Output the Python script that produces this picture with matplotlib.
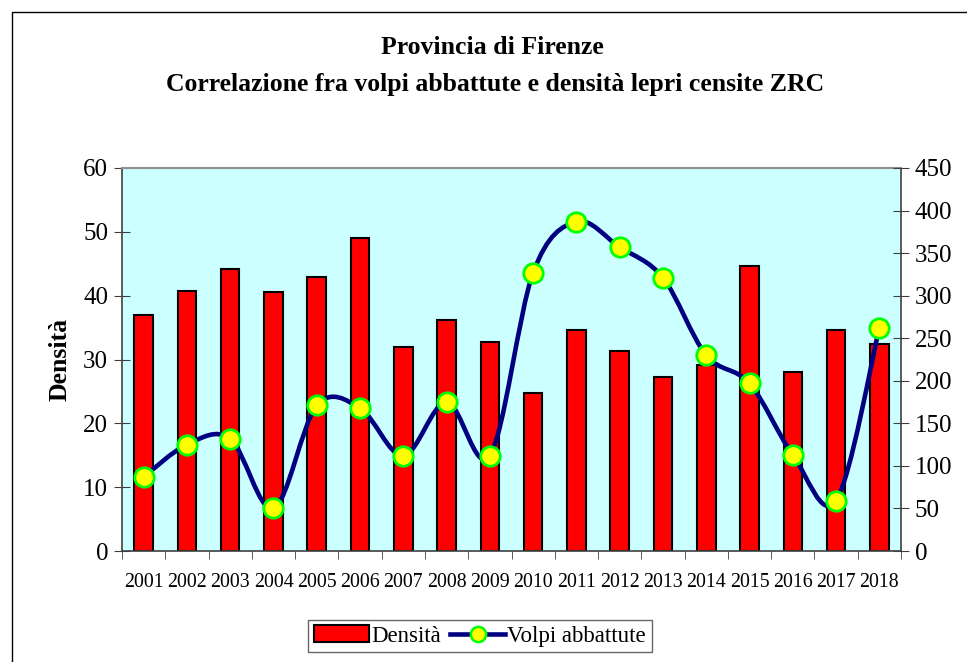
import matplotlib
matplotlib.use("Agg")
import matplotlib.pyplot as plt
from matplotlib.path import Path
from matplotlib.patches import PathPatch, Rectangle
from matplotlib.lines import Line2D
import numpy as np

years = ["2001", "2002", "2003", "2004", "2005", "2006", "2007", "2008", "2009",
         "2010", "2011", "2012", "2013", "2014", "2015", "2016", "2017", "2018"]
densita = [36.9, 40.7, 44.2, 40.6, 43.0, 49.0, 32.0, 36.2, 32.8,
           24.8, 34.6, 31.3, 27.2, 29.1, 44.6, 28.1, 34.6, 32.4]
volpi = [87, 125, 132, 50, 171, 168, 112, 175, 112,
         327, 387, 357, 321, 230, 197, 113, 59, 262]

plt.rcParams['font.family'] = ['Liberation Serif', 'DejaVu Serif']

fig = plt.figure(figsize=(9.67, 6.62), dpi=100)
fig.patches.append(Rectangle((12/967, -0.05), 2.0, 1 - 12/662 + 0.05, transform=fig.transFigure,
                             fill=False, edgecolor='black', linewidth=1.0))

ax = fig.add_axes([122/967, 1 - 551/662, (901 - 122)/967, (551 - 168)/662])
ax.set_facecolor('#CCFFFF')
x = np.arange(len(years))
ax.bar(x, densita, width=0.43, color='#FF0000', edgecolor='black', linewidth=1.5, zorder=2)
ax.set_xlim(-0.5, len(years) - 0.5)
ax.set_ylim(0, 60)
ax.set_yticks(range(0, 61, 10))
ax.set_xticks(x)
ax.set_xticklabels(years, fontsize=14.3)
ax.set_xticks(np.arange(-0.5, len(years), 1.0), minor=True)
ax.tick_params(axis='x', which='major', length=0, pad=16)
ax.tick_params(axis='x', which='minor', length=6, direction='out', color='#404040')
ax.tick_params(axis='y', length=12, direction='inout', labelsize=18, color='#404040', pad=4)
ax.set_ylabel('Densità', fontsize=18.5, fontweight='bold', labelpad=8)
for s in ['left', 'bottom', 'right']:
    ax.spines[s].set_color('#404040')
    ax.spines[s].set_linewidth(1.2)
ax.spines['top'].set_color('#909090')
ax.spines['top'].set_linewidth(1.5)

ax2 = ax.twinx()
ax2.set_ylim(0, 450)
ax2.set_yticks(range(0, 451, 50))
ax2.tick_params(axis='y', length=12, direction='inout', labelsize=18, color='#404040', pad=4)
for s in ['left', 'bottom', 'right', 'top']:
    ax2.spines[s].set_visible(False)

# smooth curve (Excel-like Catmull-Rom bezier) through data points
pts = np.column_stack([x, volpi]).astype(float)
n = len(pts)
verts = [pts[0]]
codes = [Path.MOVETO]
for i in range(n - 1):
    p0 = pts[max(i - 1, 0)]
    p1 = pts[i]
    p2 = pts[i + 1]
    p3 = pts[min(i + 2, n - 1)]
    c1 = p1 + (p2 - p0) / 6.0
    c2 = p2 - (p3 - p1) / 6.0
    verts += [c1, c2, p2]
    codes += [Path.CURVE4] * 3
ax2.add_patch(PathPatch(Path(verts, codes), facecolor='none', edgecolor='#000080',
                        linewidth=3.3, zorder=3, capstyle='round', joinstyle='round'))
ax2.plot(x, volpi, linestyle='none', marker='o', markersize=14, markerfacecolor='#FFFF00',
         markeredgecolor='#00FF00', markeredgewidth=2.0, zorder=4)

fig.text(492/967, 1 - 47/662, 'Provincia di Firenze', ha='center', va='center',
         fontsize=18.5, fontweight='bold')
fig.text(495/967, 1 - 84/662, 'Correlazione fra volpi abbattute e densità lepri censite ZRC',
         ha='center', va='center', fontsize=18.5, fontweight='bold')

h1 = Rectangle((0, 0), 1, 1, facecolor='#FF0000', edgecolor='black', linewidth=1.5)
h2 = Line2D([0], [0], color='#000080', linewidth=3.3, marker='o', markersize=11,
            markerfacecolor='#FFFF00', markeredgecolor='#00FF00', markeredgewidth=1.8)
leg = fig.legend([h1, h2], ['Densità', 'Volpi abbattute'], loc='center',
                 bbox_to_anchor=(480/967, 1 - 636/662), ncol=2, fontsize=16.5,
                 frameon=True, fancybox=False, edgecolor='#404040', handlelength=2.4,
                 handletextpad=0.1, columnspacing=0.4, borderpad=0.25)
leg.get_frame().set_linewidth(1.0)

fig.savefig('out.png', dpi=100)
